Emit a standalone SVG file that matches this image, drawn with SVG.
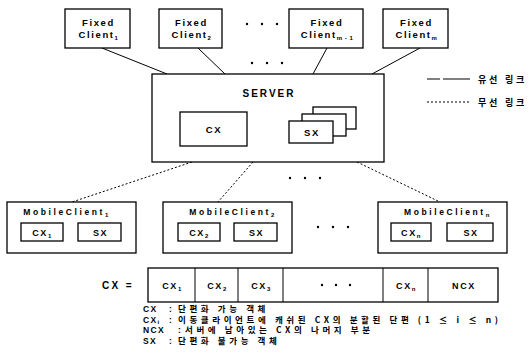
<svg xmlns="http://www.w3.org/2000/svg" width="531" height="360" viewBox="0 0 531 360">
  <style>
    .box { fill: #fff; stroke: #000; stroke-width: 1.3; }
    .t { font-family: "Liberation Sans", Arial, sans-serif; font-weight: bold; fill: #000; }
    .lbl { font-size: 9.5px; letter-spacing: 1.6px; text-anchor: middle; }
    .mc { font-size: 8.5px; letter-spacing: 2.6px; text-anchor: middle; }
    .sub { font-size: 6px; letter-spacing: 0.5px; }
    .ko { font-family: "Noto Sans CJK KR", "Liberation Sans", sans-serif; font-weight: bold; fill: #000; }
    .wired { stroke: #000; stroke-width: 1; fill: none; }
    .wireless { stroke: #000; stroke-width: 1; stroke-dasharray: 2 2; fill: none; }
    .dot { fill: #000; }
  </style>

  <!-- connectors: wired (solid) and wireless (dotted) links -->
  <g id="connectors">
    <line class="wired" x1="102" y1="48" x2="167" y2="74"/>
    <line class="wired" x1="198" y1="48" x2="225" y2="74"/>
    <line class="wired" x1="327" y1="48" x2="313" y2="74"/>
    <line class="wired" x1="420" y1="48" x2="372" y2="74"/>
    <line class="wireless" x1="192" y1="162" x2="72" y2="202"/>
    <line class="wireless" x1="253" y1="162" x2="218" y2="202"/>
    <line class="wireless" x1="357" y1="162" x2="440" y2="202"/>
  </g>

  <!-- ellipsis marks -->
  <g id="ellipses">
    <circle class="dot" cx="247" cy="24" r="1.2"/>
    <circle class="dot" cx="262" cy="24" r="1.2"/>
    <circle class="dot" cx="277" cy="24" r="1.2"/>
    <circle class="dot" cx="252" cy="63" r="1.2"/>
    <circle class="dot" cx="267" cy="63" r="1.2"/>
    <circle class="dot" cx="282" cy="63" r="1.2"/>
    <circle class="dot" cx="290" cy="178" r="1.2"/>
    <circle class="dot" cx="305" cy="178" r="1.2"/>
    <circle class="dot" cx="320" cy="178" r="1.2"/>
    <circle class="dot" cx="318" cy="227" r="1.2"/>
    <circle class="dot" cx="333" cy="227" r="1.2"/>
    <circle class="dot" cx="348" cy="227" r="1.2"/>
  </g>

  <!-- fixed clients -->
  <g id="fixed1">
    <rect class="box" x="65" y="9" width="65" height="39"/>
    <text class="t lbl" x="98.5" y="26">Fixed</text>
    <text class="t lbl" x="98.5" y="38">Client<tspan class="sub" dy="2">1</tspan></text>
  </g>
  <g id="fixed2">
    <rect class="box" x="159" y="9" width="63" height="39"/>
    <text class="t lbl" x="191.5" y="26">Fixed</text>
    <text class="t lbl" x="191.5" y="38">Client<tspan class="sub" dy="2">2</tspan></text>
  </g>
  <g id="fixedm1">
    <rect class="box" x="289" y="9" width="74" height="39"/>
    <text class="t lbl" x="327" y="26">Fixed</text>
    <text class="t lbl" x="327" y="38">Client<tspan class="sub" dy="2">m - 1</tspan></text>
  </g>
  <g id="fixedm">
    <rect class="box" x="383" y="9" width="65" height="39"/>
    <text class="t lbl" x="416.5" y="26">Fixed</text>
    <text class="t lbl" x="416.5" y="38">Client<tspan class="sub" dy="2">m</tspan></text>
  </g>

  <!-- server with its fragmentable object and stacked non-fragmentable objects -->
  <g id="server">
    <rect class="box" x="152" y="74" width="232" height="88"/>
    <text class="t" x="269" y="97" font-size="10" letter-spacing="2" text-anchor="middle">SERVER</text>
    <rect class="box" x="180" y="112" width="67" height="34"/>
    <text class="t" x="214" y="133" font-size="9.5" letter-spacing="1.6" text-anchor="middle">CX</text>
    <rect class="box" x="313" y="107" width="43" height="22"/>
    <rect class="box" x="302" y="114" width="44" height="22"/>
    <rect class="box" x="289" y="121" width="44" height="22"/>
    <text class="t" x="312" y="136" font-size="9.5" letter-spacing="1.6" text-anchor="middle">SX</text>
  </g>

  <!-- legend -->
  <g id="legend">
    <line class="wired" x1="427" y1="79" x2="470" y2="79" stroke-dasharray="13 3 27 0"/>
    <text class="ko" x="478" y="82.5" font-size="9" letter-spacing="2.8">유선 링크</text>
    <line class="wireless" x1="427" y1="102" x2="470" y2="102"/>
    <text class="ko" x="478" y="105.5" font-size="9" letter-spacing="2.8">무선 링크</text>
  </g>

  <!-- mobile clients -->
  <g id="mobile1">
    <rect class="box" x="7" y="202" width="129" height="51"/>
    <text class="t mc" x="66" y="215">MobileClient<tspan class="sub" dy="2">1</tspan></text>
    <rect class="box" x="21" y="223" width="42" height="18"/>
    <text class="t" x="42" y="235.5" font-size="9" letter-spacing="1.6" text-anchor="middle">CX<tspan class="sub" dy="2">1</tspan></text>
    <rect class="box" x="78" y="223" width="43" height="18"/>
    <text class="t" x="100.5" y="235.5" font-size="9" letter-spacing="1.6" text-anchor="middle">SX</text>
  </g>
  <g id="mobile2">
    <rect class="box" x="163" y="202" width="129" height="51"/>
    <text class="t mc" x="232" y="215">MobileClient<tspan class="sub" dy="2">2</tspan></text>
    <rect class="box" x="178" y="223" width="42" height="18"/>
    <text class="t" x="199" y="235.5" font-size="9" letter-spacing="1.6" text-anchor="middle">CX<tspan class="sub" dy="2">2</tspan></text>
    <rect class="box" x="234" y="223" width="43" height="18"/>
    <text class="t" x="256.5" y="235.5" font-size="9" letter-spacing="1.6" text-anchor="middle">SX</text>
  </g>
  <g id="mobilen">
    <rect class="box" x="378" y="202" width="129" height="51"/>
    <text class="t mc" x="447" y="215">MobileClient<tspan class="sub" dy="2">n</tspan></text>
    <rect class="box" x="391" y="223" width="40" height="18"/>
    <text class="t" x="411" y="235.5" font-size="9" letter-spacing="1.6" text-anchor="middle">CX<tspan class="sub" dy="2">n</tspan></text>
    <rect class="box" x="447" y="223" width="46" height="18"/>
    <text class="t" x="471" y="235.5" font-size="9" letter-spacing="1.6" text-anchor="middle">SX</text>
  </g>

  <!-- CX split into fragments -->
  <g id="cxrow">
    <text class="t" x="102" y="289" font-size="10" letter-spacing="2.4">CX =</text>
    <rect class="box" x="148" y="268" width="350" height="34"/>
    <line class="wired" x1="195" y1="268" x2="195" y2="302"/>
    <line class="wired" x1="238" y1="268" x2="238" y2="302"/>
    <line class="wired" x1="283" y1="268" x2="283" y2="302"/>
    <line class="wired" x1="383" y1="268" x2="383" y2="302"/>
    <line class="wired" x1="428" y1="268" x2="428" y2="302"/>
    <text class="t" x="172" y="289" font-size="9" letter-spacing="1.6" text-anchor="middle">CX<tspan class="sub" dy="2">1</tspan></text>
    <text class="t" x="217" y="289" font-size="9" letter-spacing="1.6" text-anchor="middle">CX<tspan class="sub" dy="2">2</tspan></text>
    <text class="t" x="261" y="289" font-size="9" letter-spacing="1.6" text-anchor="middle">CX<tspan class="sub" dy="2">3</tspan></text>
    <circle class="dot" cx="322" cy="285" r="1.2"/>
    <circle class="dot" cx="336" cy="285" r="1.2"/>
    <circle class="dot" cx="350" cy="285" r="1.2"/>
    <text class="t" x="406" y="289" font-size="9" letter-spacing="1.6" text-anchor="middle">CX<tspan class="sub" dy="2">n</tspan></text>
    <text class="t" x="464" y="289" font-size="9" letter-spacing="1.6" text-anchor="middle">NCX</text>
  </g>

  <!-- definitions -->
  <g id="notes" font-size="8.5">
    <text class="t" x="143" y="312" letter-spacing="1.4">CX</text>
    <text class="t" x="169" y="312">:</text>
    <text class="ko" x="178" y="312" letter-spacing="3.6">단편화 가능 객체</text>

    <text class="t" x="143" y="322.5" letter-spacing="1.4">CX<tspan class="sub" dy="1.5">i</tspan></text>
    <text class="t" x="169" y="322.5">:</text>
    <text class="ko" x="178" y="322.5" letter-spacing="3.6">이동클라이언트에 캐쉬된 CX의 분할된 단편 (1 ≤ i ≤ n)</text>

    <text class="t" x="143" y="333" letter-spacing="1.4">NCX</text>
    <text class="t" x="178" y="333">:</text>
    <text class="ko" x="185" y="333" letter-spacing="3.6">서버에 남아있는 CX의 나머지 부분</text>

    <text class="t" x="143" y="343.5" letter-spacing="1.4">SX</text>
    <text class="t" x="169" y="343.5">:</text>
    <text class="ko" x="178" y="343.5" letter-spacing="3.6">단편화 불가능 객체</text>
  </g>
</svg>
